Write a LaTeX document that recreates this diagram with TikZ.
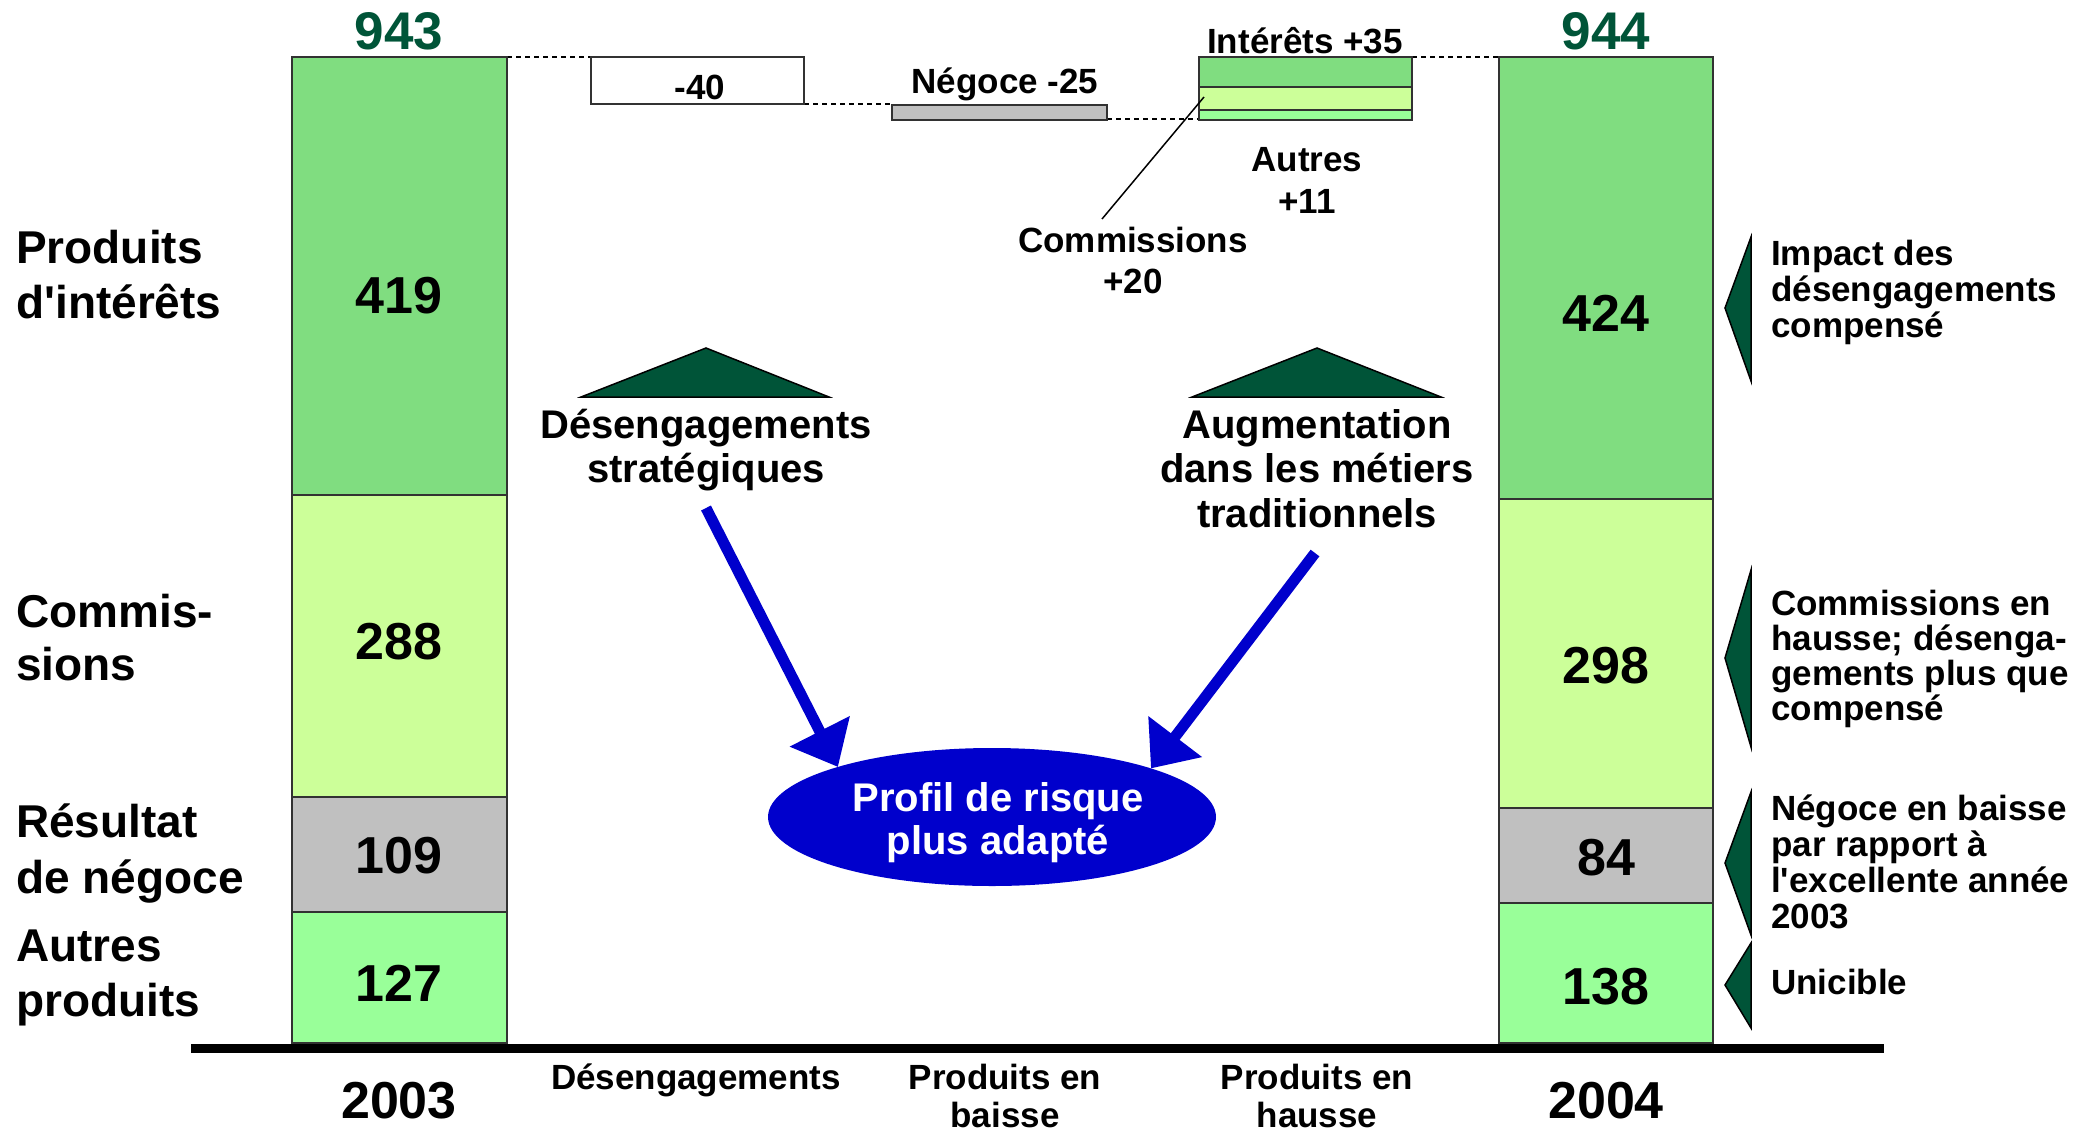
\documentclass[tikz,border=0pt]{standalone}
\usepackage{fontspec}
\setmainfont{Liberation Sans}
\usetikzlibrary{arrows.meta,shapes.geometric}
\definecolor{intgreen}{RGB}{128,221,128}
\definecolor{comyellow}{RGB}{204,255,153}
\definecolor{tradgray}{RGB}{192,192,192}
\definecolor{othgreen}{RGB}{153,255,153}
\definecolor{dkgreen}{RGB}{0,84,56}
\definecolor{rblue}{RGB}{0,0,204}
\definecolor{edge}{RGB}{50,50,50}
\tikzset{
  seg/.style={draw=edge, line width=1.8pt, anchor=north west, inner sep=0pt, outer sep=0pt},
  lbl/.style={font=\bfseries\fontsize{46}{55}\selectfont, anchor=base west, inner sep=0pt},
  num/.style={font=\bfseries\fontsize{52}{60}\selectfont, anchor=base, inner sep=0pt},
  tot/.style={font=\bfseries\fontsize{53}{60}\selectfont, anchor=base, inner sep=0pt, text=dkgreen},
  mid/.style={font=\bfseries\fontsize{40}{44}\selectfont, anchor=base, inner sep=0pt},
  note/.style={font=\bfseries\fontsize{35}{36}\selectfont, anchor=base west, inner sep=0pt},
  sm/.style={font=\bfseries\fontsize{35}{40}\selectfont, anchor=base, inner sep=0pt},
  dash line/.style={line width=1.3pt, dash pattern=on 5pt off 4pt},
  hint/.style={draw=black, line width=1.5pt, fill=dkgreen, line join=miter},
  bigarrow/.style={draw=rblue, line width=11pt, -{Triangle[width=65pt,length=40pt]}},
}
\begin{document}
\begin{tikzpicture}[x=1pt,y=-1pt]
\useasboundingbox (0,0) rectangle (2091,1133);

% ---- dashed connectors (drawn first) ----
\coordinate (d1a) at (507,57);
\coordinate (d1b) at (591,57);
\draw[dash line] (d1a) -- (d1b);
\coordinate (d2a) at (804,104);
\coordinate (d2b) at (892,104);
\draw[dash line] (d2a) -- (d2b);
\coordinate (d3a) at (1107,119);
\coordinate (d3b) at (1199,119);
\draw[dash line] (d3a) -- (d3b);
\coordinate (d4a) at (1412,57);
\coordinate (d4b) at (1499,57);
\draw[dash line] (d4a) -- (d4b);

% ---- 2003 bar ----
\node[seg, fill=intgreen,  minimum width=215pt, minimum height=438pt] (b03i) at (292,57) {};
\node[seg, fill=comyellow, minimum width=215pt, minimum height=302pt] (b03c) at (292,495) {};
\node[seg, fill=tradgray,  minimum width=215pt, minimum height=115pt] (b03t) at (292,797) {};
\node[seg, fill=othgreen,  minimum width=215pt, minimum height=131pt] (b03o) at (292,912) {};
\node[num] (v419) at (399,313) {419};
\node[num] (v288) at (399,659) {288};
\node[num] (v109) at (399,873) {109};
\node[num] (v127) at (399,1001) {127};
\node[tot] (t943) at (399,49) {943};

% ---- 2004 bar ----
\node[seg, fill=intgreen,  minimum width=214pt, minimum height=442pt] (b04i) at (1499,57) {};
\node[seg, fill=comyellow, minimum width=214pt, minimum height=309pt] (b04c) at (1499,499) {};
\node[seg, fill=tradgray,  minimum width=214pt, minimum height=95pt] (b04t) at (1499,808) {};
\node[seg, fill=othgreen,  minimum width=214pt, minimum height=140pt] (b04o) at (1499,903) {};
\node[num] (v424) at (1606,331) {424};
\node[num] (v298) at (1606,683) {298};
\node[num] (v84) at (1606,875) {84};
\node[num] (v138) at (1606,1004) {138};
\node[tot] (t944) at (1606,49) {944};

% ---- waterfall steps ----
\node[seg, fill=white, minimum width=213pt, minimum height=47pt] (m40) at (591,57) {};
\node[sm] (l40) at (700,99) {-40};
\node[seg, fill=tradgray, minimum width=215pt, minimum height=15pt] (neg) at (892,105) {};
\node[sm] (lneg) at (1005,93) {Négoce -25};
\node[seg, fill=intgreen,  minimum width=213pt, minimum height=30pt] (si) at (1199,57) {};
\node[seg, fill=comyellow, minimum width=213pt, minimum height=23pt] (sc) at (1199,87) {};
\node[seg, fill=othgreen,  minimum width=213pt, minimum height=10pt] (so) at (1199,110) {};
\node[sm] (lint) at (1305,53) {Intérêts +35};
\node[sm] (laut1) at (1307,171) {Autres};
\node[sm] (laut2) at (1307,213) {+11};
\node[sm] (lcom1) at (1133,252) {Commissions};
\node[sm] (lcom2) at (1133,293) {+20};
\coordinate (ldA) at (1102,219);
\coordinate (ldB) at (1204,97);
\draw[line width=1.5pt] (ldA) -- (ldB);

% ---- left category labels ----
\node[lbl] (c1a) at (16,263) {Produits};
\node[lbl] (c1b) at (16,318) {d\textquotesingle intérêts};
\node[lbl] (c2a) at (16,627) {Commis-};
\node[lbl] (c2b) at (16,680) {sions};
\node[lbl] (c3a) at (16,837) {Résultat};
\node[lbl] (c3b) at (16,893) {de négoce};
\node[lbl] (c4a) at (16,961) {Autres};
\node[lbl] (c4b) at (16,1016) {produits};

% ---- centre: triangles, texts, arrows, ellipse ----
\draw[hint] (581,397) -- (706,348) -- (829,397) -- cycle;
\draw[hint] (1192,397) -- (1317,348) -- (1441,397) -- cycle;
\node[mid] (ds1) at (706,438) {Désengagements};
\node[mid] (ds2) at (706,482) {stratégiques};
\node[mid] (au1) at (1317,438) {Augmentation};
\node[mid] (au2) at (1317,482) {dans les métiers};
\node[mid] (au3) at (1317,527) {traditionnels};

\node[ellipse, fill=rblue, minimum width=448pt, minimum height=138pt, inner sep=0pt, outer sep=0pt] (profil) at (992,817) {};
\node[mid, text=white] (pr1) at (998,811) {Profil de risque};
\node[mid, text=white] (pr2) at (998,854) {plus adapté};

\coordinate (a1s) at (706,508);
\coordinate (a2s) at (1315,553);
\draw[bigarrow] (a1s) -- (profil.162.4);
\draw[bigarrow] (a2s) -- (profil.17.4);

% ---- right notes ----
\draw[hint] (1751,237) -- (1725,308) -- (1751,381) -- cycle;
\draw[hint] (1751,570) -- (1725,658) -- (1751,747) -- cycle;
\draw[hint] (1751,792) -- (1725,863) -- (1751,935) -- cycle;
\draw[hint] (1751,943) -- (1725,985) -- (1751,1028) -- cycle;
\node[note] (n1a) at (1771,265) {Impact des};
\node[note] (n1b) at (1771,301) {désengagements};
\node[note] (n1c) at (1771,337) {compensé};
\node[note] (n2a) at (1771,615) {Commissions en};
\node[note] (n2b) at (1771,650) {hausse; désenga-};
\node[note] (n2c) at (1771,685) {gements plus que};
\node[note] (n2d) at (1771,720) {compensé};
\node[note] (n3a) at (1771,820) {Négoce en baisse};
\node[note] (n3b) at (1771,856) {par rapport à};
\node[note] (n3c) at (1771,892) {l\textquotesingle excellente année};
\node[note] (n3d) at (1771,928) {2003};
\node[note] (n4a) at (1771,994) {Unicible};

% ---- axis and bottom labels ----
\coordinate (axL) at (191,1048);
\coordinate (axR) at (1884,1048);
\draw[line width=9pt] (axL) -- (axR);
\node[num] (y03) at (399,1118) {2003};
\node[num] (y04) at (1606,1118) {2004};
\node[sm] (xd) at (696,1089) {Désengagements};
\node[sm] (xb1) at (1005,1089) {Produits en};
\node[sm] (xb2) at (1005,1127) {baisse};
\node[sm] (xh1) at (1317,1089) {Produits en};
\node[sm] (xh2) at (1317,1127) {hausse};
\end{tikzpicture}
\end{document}
